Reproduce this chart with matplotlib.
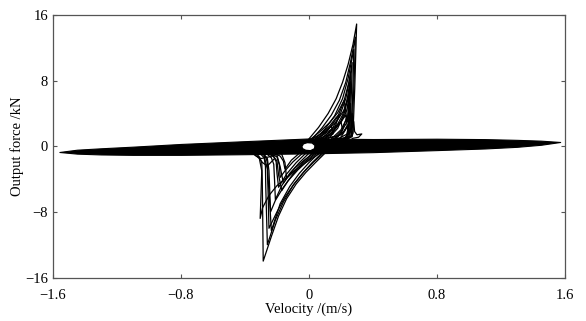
import numpy as np
import matplotlib
matplotlib.use("Agg")
import matplotlib.pyplot as plt

plt.rcParams['font.family'] = ['Liberation Serif', 'DejaVu Serif']
plt.rcParams['axes.unicode_minus'] = True

# banda principal (borde superior e inferior)
banda_v = [-1.56, -1.45, -1.3, -1.1, -0.8, -0.4, 0.0, 0.4, 0.8, 1.1, 1.3, 1.45, 1.57]
banda_sup = [-0.7, -0.42, -0.25, -0.05, 0.28, 0.62, 0.95, 0.88, 0.92, 0.87, 0.78, 0.68, 0.52]
banda_inf = [-0.7, -0.9, -1.0, -1.05, -1.05, -0.97, -0.87, -0.72, -0.47, -0.27, -0.07, 0.18, 0.52]

# hueco blanco cerca del origen
hueco_v = [-0.045, -0.035, -0.01, 0.02, 0.038, 0.035, 0.01, -0.02, -0.04, -0.045]
hueco_F = [-0.05, 0.3, 0.45, 0.4, 0.1, -0.3, -0.55, -0.5, -0.3, -0.05]

# lazos superiores (fuerza positiva)
lazos_sup_v = [
    [0.00, 0.06, 0.12, 0.17, 0.21, 0.245, 0.275, 0.298, 0.292, 0.286, 0.280, 0.276, 0.270, 0.24, 0.15, 0.05],
    [0.02, 0.08, 0.14, 0.19, 0.23, 0.26, 0.29, 0.285, 0.278, 0.272, 0.265, 0.23, 0.12],
    [0.04, 0.10, 0.16, 0.21, 0.245, 0.28, 0.276, 0.27, 0.262, 0.255, 0.22, 0.12],
    [0.06, 0.12, 0.18, 0.22, 0.25, 0.27, 0.266, 0.26, 0.254, 0.24, 0.2],
    [0.08, 0.14, 0.19, 0.23, 0.262, 0.258, 0.252, 0.246, 0.22, 0.15],
    [0.10, 0.16, 0.21, 0.24, 0.255, 0.252, 0.247, 0.24, 0.21],
    [0.12, 0.18, 0.22, 0.25, 0.255, 0.258, 0.25, 0.22],
    [0.14, 0.2, 0.24, 0.26, 0.265, 0.268, 0.262, 0.24],
    [0.16, 0.22, 0.255, 0.27, 0.276, 0.275, 0.268],
    [0.18, 0.24, 0.27, 0.28, 0.285, 0.30, 0.33, 0.31, 0.27],
    [0.15, 0.21, 0.24, 0.245, 0.23],
    [0.03, 0.09, 0.15, 0.2, 0.21, 0.17, 0.08],
    [0.0, 0.05, 0.10, 0.14, 0.15, 0.1],
    [0.01, 0.07, 0.13, 0.18, 0.22, 0.235, 0.2, 0.1],
    [0.05, 0.11, 0.17, 0.22, 0.25, 0.24, 0.18],
    [0.02, 0.08, 0.13, 0.17, 0.19, 0.15, 0.06],
    [0.07, 0.13, 0.19, 0.23, 0.24, 0.2],
    [0.09, 0.15, 0.2, 0.235, 0.245, 0.25, 0.23],
]
lazos_sup_F = [
    [0.9, 2.3, 4.0, 5.8, 7.8, 10.0, 12.4, 14.9, 11.0, 7.0, 4.0, 2.0, 1.2, 0.9, 0.8, 0.8],
    [0.9, 2.2, 3.8, 5.6, 7.8, 10.3, 13.3, 9.5, 6.0, 3.0, 1.3, 0.9, 0.8],
    [0.9, 2.1, 3.7, 5.8, 8.3, 11.8, 8.0, 4.5, 2.2, 1.2, 0.9, 0.8],
    [0.9, 2.0, 3.6, 5.6, 7.8, 10.2, 7.0, 4.0, 1.8, 1.1, 0.9],
    [0.9, 2.0, 3.6, 5.8, 9.0, 6.0, 3.2, 1.4, 1.0, 0.9],
    [0.9, 2.0, 3.8, 5.8, 7.8, 5.0, 2.5, 1.2, 0.9],
    [0.9, 2.2, 4.0, 6.5, 4.5, 2.2, 1.2, 0.9],
    [0.9, 2.0, 3.5, 5.2, 3.5, 1.8, 1.1, 0.9],
    [0.9, 1.8, 3.0, 4.0, 3.0, 1.6, 1.2],
    [0.9, 1.5, 2.3, 3.0, 1.8, 1.4, 1.5, 1.1, 0.95],
    [0.9, 1.6, 2.5, 1.6, 1.0],
    [0.8, 1.4, 2.2, 3.0, 2.0, 1.2, 0.9],
    [0.8, 1.2, 1.8, 2.5, 1.5, 1.0],
    [0.85, 1.8, 2.9, 4.1, 5.6, 3.5, 1.4, 0.9],
    [0.9, 1.9, 3.0, 4.4, 6.0, 3.0, 1.1],
    [0.85, 1.6, 2.5, 3.5, 3.9, 1.6, 0.9],
    [0.9, 1.7, 2.7, 3.8, 2.4, 1.1],
    [0.9, 1.8, 2.9, 4.3, 5.4, 2.6, 1.0],
]

# lazos inferiores (fuerza negativa)
lazos_inf_v = [
    [0.10, 0.04, -0.02, -0.08, -0.14, -0.19, -0.235, -0.286, -0.288, -0.29, -0.292, -0.295, -0.31, -0.33],
    [0.08, 0.02, -0.04, -0.10, -0.16, -0.21, -0.26, -0.265, -0.27, -0.272, -0.28, -0.30],
    [0.06, 0.0, -0.06, -0.12, -0.18, -0.235, -0.245, -0.255, -0.26, -0.27, -0.29],
    [0.04, -0.02, -0.08, -0.14, -0.2, -0.25, -0.29, -0.305, -0.30, -0.295, -0.31, -0.34],
    [0.02, -0.04, -0.10, -0.16, -0.21, -0.24, -0.245, -0.25, -0.26, -0.28],
    [0.0, -0.06, -0.12, -0.17, -0.21, -0.215, -0.22, -0.235, -0.26],
    [-0.02, -0.08, -0.14, -0.19, -0.2, -0.205, -0.22, -0.25],
    [-0.04, -0.10, -0.15, -0.18, -0.185, -0.2, -0.23],
    [-0.06, -0.11, -0.15, -0.16, -0.18, -0.21],
    [-0.2, -0.25, -0.30, -0.33, -0.35],
    [0.09, 0.03, -0.03, -0.09, -0.15, -0.2, -0.25, -0.255, -0.26, -0.28],
    [0.05, -0.01, -0.07, -0.13, -0.17, -0.19, -0.2, -0.23],
    [0.03, -0.03, -0.09, -0.13, -0.16, -0.18, -0.2],
    [0.07, 0.01, -0.05, -0.1, -0.14, -0.15, -0.17],
    [-0.22, -0.26, -0.29, -0.32],
]
lazos_inf_F = [
    [-0.85, -2.0, -3.2, -4.6, -6.4, -8.5, -11.0, -14.0, -10.5, -7.0, -4.0, -2.0, -1.3, -0.9],
    [-0.85, -2.0, -3.3, -4.8, -6.8, -9.0, -12.0, -8.5, -5.0, -2.5, -1.4, -1.0],
    [-0.85, -2.0, -3.3, -4.9, -7.0, -10.3, -7.0, -4.0, -2.0, -1.3, -0.95],
    [-0.85, -1.8, -2.8, -3.8, -4.8, -6.0, -7.5, -8.8, -6.0, -3.0, -1.5, -1.0],
    [-0.85, -2.0, -3.4, -5.0, -6.6, -8.0, -5.5, -3.0, -1.5, -1.0],
    [-0.85, -2.0, -3.3, -4.8, -6.5, -4.2, -2.2, -1.4, -1.0],
    [-0.85, -2.0, -3.4, -5.0, -3.3, -1.9, -1.3, -0.95],
    [-0.85, -1.9, -3.0, -3.8, -2.3, -1.3, -1.0],
    [-0.85, -1.7, -2.8, -1.8, -1.2, -0.95],
    [-1.0, -1.3, -1.5, -1.2, -0.9],
    [-0.85, -1.9, -3.1, -4.5, -6.2, -8.0, -10.0, -6.0, -2.8, -1.2],
    [-0.85, -1.8, -2.9, -4.2, -5.4, -3.5, -1.8, -1.0],
    [-0.85, -1.7, -2.7, -3.7, -4.5, -2.5, -1.1],
    [-0.85, -1.6, -2.4, -3.2, -3.9, -2.0, -1.0],
    [-1.6, -2.4, -2.0, -1.2],
]

xticks = [-1.6, -0.8, 0, 0.8, 1.6]
yticks = [-16, -8, 0, 8, 16]

fig = plt.figure(figsize=(5.86, 3.21), dpi=100)
ax = fig.add_axes([0.0904, 0.1355, 0.8737, 0.8178])

# banda rellena
ax.fill_between(banda_v, banda_inf, banda_sup, color='black', linewidth=0.8, edgecolor='black')
ax.fill(hueco_v, hueco_F, facecolor='white', edgecolor='black', linewidth=1.0)

for v, F in zip(lazos_sup_v, lazos_sup_F):
    ax.plot(v, F, color='black', linewidth=0.9)
for v, F in zip(lazos_inf_v, lazos_inf_F):
    ax.plot(v, F, color='black', linewidth=0.9)

ax.set_xlim(-1.6, 1.6)
ax.set_ylim(-16, 16)
ax.set_xticks(xticks)
ax.set_yticks(yticks)
ax.set_xticklabels(['\u22121.6', '\u22120.8', '0', '0.8', '1.6'])
ax.set_yticklabels(['\u221216', '\u22128', '0', '8', '16'])
ax.tick_params(direction='in', length=3, width=0.8, color='#555555', labelsize=10.5,
               top=True, right=True)
ax.tick_params(axis='x', pad=8)
ax.tick_params(axis='y', pad=3.5)
for s in ax.spines.values():
    s.set_color('#555555')
    s.set_linewidth(0.9)

ax.set_xlabel('Velocity /(m/s)', fontsize=10.5, labelpad=1)
ax.set_ylabel('Output force /kN', fontsize=10.5, labelpad=1)

fig.savefig('out.png', dpi=100)
